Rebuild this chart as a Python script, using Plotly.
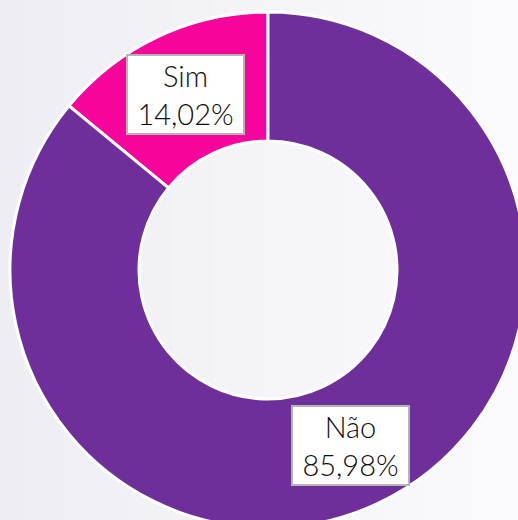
import math
import plotly.graph_objects as go

labels = ["Sim", "Não"]
values = [14.02, 85.98]
colors = ["#f7049d", "#6e2f9b"]
label_texts = ["Sim<br>14,02%", "Não<br>85,98%"]

W, H = 526, 528
ML, MT = 10, 12
PW, PH = W - ML, H - MT
HOLE = 0.5
total = sum(values)

fig = go.Figure(go.Pie(
    labels=labels, values=values, sort=False, direction="clockwise",
    rotation=-values[0] / total * 360, hole=HOLE, textinfo="none",
    hoverinfo="label+percent",
    marker=dict(colors=colors, line=dict(color="#ffffff", width=3)),
    showlegend=False,
))

# background gradient (left -> right)
c0 = (238, 237, 243)
c1 = (251, 251, 254)
N = 52
shapes = []
for i in range(N):
    t = i / (N - 1)
    col = "rgb(%d,%d,%d)" % tuple(round(a + (b - a) * t) for a, b in zip(c0, c1))
    x0p = i * W / N
    x1p = (i + 1) * W / N + 1
    shapes.append(dict(type="rect", xref="paper", yref="paper", layer="below",
                       x0=(x0p - ML) / PW, x1=(x1p - ML) / PW,
                       y0=-0.1, y1=1.1, fillcolor=col, line=dict(width=0)))

# labels at mid-ring radius, at each slice's mid angle (counterclockwise from top)
annotations = []
cum = 0.0
rmid = (1 + HOLE) / 2 * 0.5
for lab, v in zip(label_texts, values):
    mid = (cum + v / 2) / total * 2 * math.pi
    cum += v
    dx = -math.sin(mid) * rmid
    dy = math.cos(mid) * rmid
    annotations.append(dict(
        x=0.5 + dx, y=0.5 + dy, xref="paper", yref="paper", text=lab,
        xanchor="center", yanchor="middle", showarrow=False,
        font=dict(family="Lato, 'Open Sans', sans-serif", size=29, color="#0d0d0d", weight=300),
        bgcolor="#ffffff", bordercolor="#b4b4b4", borderwidth=2, borderpad=3,
        width=109, height=71, align="center",
    ))

fig.update_layout(
    width=W, height=H, margin=dict(l=ML, r=0, t=MT, b=0, pad=0),
    paper_bgcolor="rgb(245,244,249)", plot_bgcolor="rgba(0,0,0,0)",
    shapes=shapes, annotations=annotations,
)

fig.write_html(
    "out.html",
    config={"displayModeBar": False},
    post_script="document.body.style.margin='0';document.body.style.overflow='hidden';"
                "document.documentElement.style.overflow='hidden';",
)
